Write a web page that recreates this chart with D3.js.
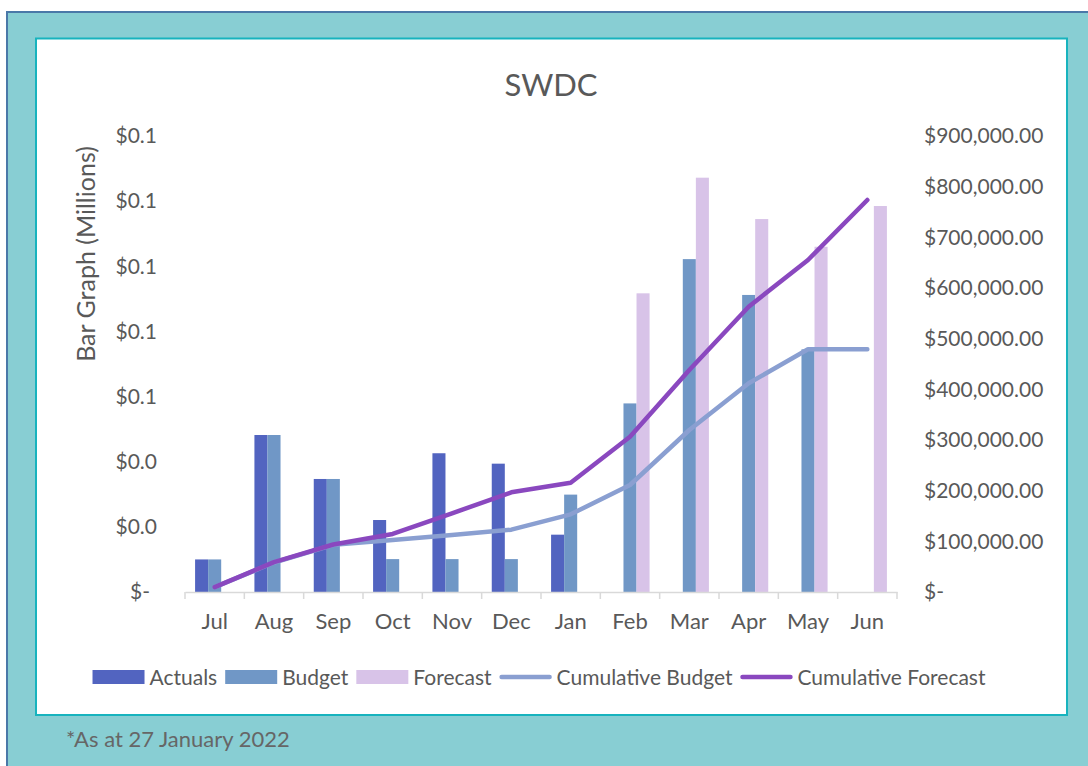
<!DOCTYPE html>
<html>
<head>
<meta charset="utf-8">
<script src="https://cdn.jsdelivr.net/npm/d3@7"></script>
<style>
body { margin: 0; background: #fff; }
text { font-family: Lato, "Open Sans", sans-serif; }
</style>
</head>
<body>
<svg width="1088" height="766"></svg>
<script>
var months = ["Jul","Aug","Sep","Oct","Nov","Dec","Jan","Feb","Mar","Apr","May","Jun"];
var actuals = [10000, 48200, 34700, 22100, 42600, 39400, 17600, null, null, null, null, null];
var budget = [10000, 48200, 34700, 10100, 10100, 10100, 29900, 57900, 102200, 91200, 74500, null];
var forecast = [null, null, null, null, null, null, null, 91700, 127200, 114500, 106000, 118500];
var cumBudget = [9500, 58200, 93000, 102800, 112400, 123000, 153300, 211200, 319700, 411900, 479000, 479000];
var cumForecast = [9500, 59000, 93800, 114500, 155300, 196700, 215700, 306500, 438100, 563100, 655300, 773700];
var leftTicks = [0, 20000, 40000, 60000, 80000, 100000, 120000, 140000];
var rightTicks = [0, 100000, 200000, 300000, 400000, 500000, 600000, 700000, 800000, 900000];

function main() {
	var svg = d3.select("svg");
	var textCol = "#595959";

	// frame
	svg.append("rect").attr("x", 7).attr("y", 12).attr("width", 1100).attr("height", 800)
		.attr("fill", "#88CED3").attr("stroke", "#4A78A8").attr("stroke-width", 2);
	svg.append("rect").attr("x", 36).attr("y", 38.5).attr("width", 1031).attr("height", 676.5)
		.attr("fill", "#fff").attr("stroke", "#17B3BE").attr("stroke-width", 2);

	svg.append("text").attr("x", 551).attr("y", 96).attr("text-anchor", "middle")
		.attr("font-size", "31px").attr("fill", textCol).text("SWDC");

	var x = d3.scaleBand().domain(months).range([185, 897]),
		yL = d3.scaleLinear().domain([0, 140000]).range([592, 136]),
		yR = d3.scaleLinear().domain([0, 900000]).range([592, 136]);
	var bw = x.bandwidth(), gw = bw * 0.66;
	var xs = d3.scaleBand().domain(["Actuals","Budget","Forecast"]).range([(bw - gw) / 2, (bw + gw) / 2]);

	// left axis
	var gl = svg.append("g").attr("transform", "translate(165,0)")
		.call(d3.axisLeft(yL).tickValues(leftTicks).tickSize(0).tickPadding(8)
			.tickFormat(function(d){ return d === 0 ? "$-" : "$" + (d / 1e6).toFixed(1); }));
	gl.select(".domain").remove();
	gl.selectAll("text").attr("font-size", "21px").attr("fill", textCol).attr("font-family", "Lato")
		.attr("dx", function(d){ return d === 0 ? -7 : 0; });

	// right axis
	var gr = svg.append("g").attr("transform", "translate(916,0)")
		.call(d3.axisRight(yR).tickValues(rightTicks).tickSize(0).tickPadding(8)
			.tickFormat(function(d){ return d === 0 ? "$-" : d3.format("$,.2f")(d); }));
	gr.select(".domain").remove();
	gr.selectAll("text").attr("font-size", "21px").attr("fill", textCol).attr("font-family", "Lato");

	svg.append("text").attr("transform", "translate(95,254) rotate(-90)").attr("text-anchor", "middle")
		.attr("font-size", "25px").attr("fill", textCol).text("Bar Graph (Millions)");

	// bars
	var series = [
		{name: "Actuals", vals: actuals, color: "#5264C0"},
		{name: "Budget", vals: budget, color: "#7097C6"},
		{name: "Forecast", vals: forecast, color: "#D8C3E8"}
	];
	series.forEach(function(s){
		svg.append("g").selectAll("rect")
			.data(months.map(function(m, i){ return {m: m, v: s.vals[i]}; }).filter(function(d){ return d.v != null; }))
			.enter().append("rect")
			.attr("x", function(d){ return x(d.m) + xs(s.name); })
			.attr("y", function(d){ return yL(d.v); })
			.attr("width", xs.bandwidth())
			.attr("height", function(d){ return yL(0) - yL(d.v); })
			.attr("fill", s.color);
	});

	// x axis
	var gx = svg.append("g").attr("transform", "translate(0,592)")
		.call(d3.axisBottom(x).tickSize(0).tickPadding(21));
	gx.select(".domain").attr("stroke", "#D9D9D9").attr("stroke-width", 1.5);
	gx.selectAll("text").attr("font-size", "22px").attr("fill", textCol).attr("font-family", "Lato");
	var bounds = months.map(function(m){ return x(m); }).concat([x.range()[1]]);
	gx.selectAll(".bound").data(bounds).enter().append("line")
		.attr("x1", function(d){ return d; }).attr("x2", function(d){ return d; })
		.attr("y1", 0).attr("y2", 7).attr("stroke", "#D9D9D9").attr("stroke-width", 1.5);

	// lines
	var line = d3.line()
		.x(function(d, i){ return x(months[i]) + bw / 2; })
		.y(function(d){ return yR(d); });
	svg.append("path").datum(cumBudget).attr("d", line).attr("fill", "none")
		.attr("stroke", "#8A9FD1").attr("stroke-width", 4.5)
		.attr("stroke-linecap", "round").attr("stroke-linejoin", "round");
	svg.append("path").datum(cumForecast).attr("d", line).attr("fill", "none")
		.attr("stroke", "#8A48BF").attr("stroke-width", 4.5)
		.attr("stroke-linecap", "round").attr("stroke-linejoin", "round");

	// legend
	var items = [
		{name: "Actuals", type: "bar", color: "#5264C0"},
		{name: "Budget", type: "bar", color: "#7097C6"},
		{name: "Forecast", type: "bar", color: "#D8C3E8"},
		{name: "Cumulative Budget", type: "line", color: "#8A9FD1"},
		{name: "Cumulative Forecast", type: "line", color: "#8A48BF"}
	];
	var lg = svg.append("g");
	var cx = 0;
	items.forEach(function(it){
		if (it.type === "bar") {
			lg.append("rect").attr("x", cx).attr("y", -7).attr("width", 52).attr("height", 14).attr("fill", it.color);
		} else {
			lg.append("line").attr("x1", cx + 2).attr("x2", cx + 50).attr("y1", 0).attr("y2", 0)
				.attr("stroke", it.color).attr("stroke-width", 4.5).attr("stroke-linecap", "round");
		}
		var t = lg.append("text").attr("x", cx + 57).attr("y", 7.5).attr("font-size", "21px")
			.attr("fill", textCol).text(it.name);
		cx += 57 + t.node().getComputedTextLength() + 8;
	});
	var lw = cx - 8;
	lg.attr("transform", "translate(" + (539 - lw / 2) + ",677)");

	svg.append("text").attr("x", 66).attr("y", 747).attr("font-size", "22px")
		.attr("fill", "#666").text("*As at 27 January 2022");
}
main();
</script>
</body>
</html>
